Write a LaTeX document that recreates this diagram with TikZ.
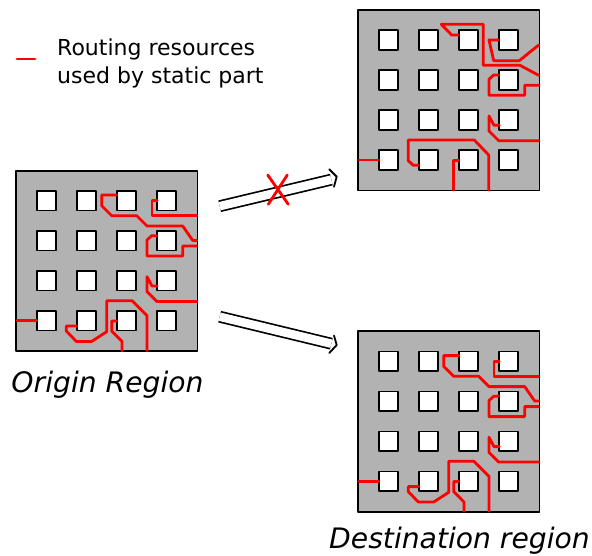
\documentclass[tikz,border=0pt]{standalone}
\usepackage{fontspec}
\setmainfont{DejaVu Sans}
\tikzset{
	region/.style={draw=black, line width=1.7pt, fill=black!30, anchor=north west, minimum width=181.5pt, minimum height=180.5pt, inner sep=0pt, outer sep=0pt},
	pad/.style={draw=black, line width=1.8pt, fill=white, minimum size=19.5pt, inner sep=0pt, outer sep=0pt},
	route/.style={draw=red, line width=2.8pt},
	transfer/.style={double, double distance=8.5pt, line width=1.7pt, line cap=butt},
	transfer head/.style={draw=black, line width=1.8pt},
	caption/.style={font=\fontsize{28.2}{34}\selectfont\itshape, inner sep=0pt}
}
\begin{document}
\begin{tikzpicture}[x=1pt, y=-1pt, line cap=round, line join=round]
	\useasboundingbox (0, 0) rectangle (592, 555);
	% Regions, pads and the routes they all share
	\foreach \r/\px/\py in {origin/16/170.7, upper/358/10, lower/358/331.3} {
		\begin{scope}[shift={(\px, \py)}]
			\node [region] (\r) at (0, 0) {};
			\foreach \a [count=\x] in {30.5, 70.5, 110.5, 150.5}
				\foreach \b [count=\y] in {30, 70, 110, 150}
					\node [pad] (\r-pad-\x-\y) at (\a, \b) {};
			\draw [route] (140.7, 65) -- (135.7, 65) -- (131, 69.3) -- (131, 85.3) -- (166.7, 85.3) -- (166.7, 75.3) -- (180.7, 75.3);
			\draw [route] (141.3, 115.3) -- (136, 115.3) -- (131, 106) -- (131, 121) -- (140.7, 130.7) -- (180.7, 130.7);
			\draw [route] (1, 150) -- (\r-pad-1-4);
		\end{scope}
	}
	% Routes of the origin and lower regions
	\foreach \r/\px/\py in {origin/16/170.7, lower/358/331.3} {
		\begin{scope}[shift={(\px, \py)}]
			\draw [route] (100.7, 24.3) -- (85.7, 24.3) -- (85.7, 35) -- (95.7, 45) -- (120.7, 45) -- (131, 55.3) -- (166.7, 55.3) -- (176.7, 69.7) -- (180.7, 69.7);
			\draw [route] (141.3, 30) -- (136, 30) -- (136, 45) -- (180.7, 45);
			\draw [route] (60.7, 155.3) -- (50.3, 155.3) -- (50.3, 160.3) -- (60.3, 170.7) -- (75.7, 170.7) -- (90.7, 161) -- (90.7, 130) -- (116, 130) -- (131, 145) -- (131, 180);
			\draw [route] (100.7, 150.3) -- (95.7, 150.3) -- (95.7, 160.3) -- (106, 170.7) -- (106, 180);
		\end{scope}
	}
	% Routes of the upper region
	\begin{scope}[shift={(358, 10)}]
		\draw [route] (100.3, 25) -- (93.7, 25) -- (83.3, 14.3) -- (125.3, 14.3) -- (125.3, 55.3) -- (162, 55.3) -- (180.7, 65.3);
		\draw [route] (140.3, 30) -- (131, 30) -- (135.7, 50.7) -- (161.3, 50.7) -- (180.7, 35);
		\draw [route] (60.3, 155.3) -- (55.3, 155.3) -- (50.3, 150.7) -- (50.3, 130) -- (116.3, 130) -- (130.7, 145) -- (130.7, 180);
		\draw [route] (100.3, 150.3) -- (95.3, 150.3) -- (95.3, 180);
	\end{scope}
	% Arrows
	\coordinate (upper-tail) at (219.7, 206.2);
	\coordinate (upper-neck) at (331.3, 179.6);
	\coordinate (upper-barb-1) at (329.3, 169.3);
	\coordinate (upper-tip) at (336.7, 176.7);
	\coordinate (upper-barb-2) at (334, 186.7);
	\coordinate (lower-tail) at (219.7, 316.7);
	\coordinate (lower-neck) at (331.3, 343.7);
	\coordinate (lower-barb-1) at (334, 335.6);
	\coordinate (lower-tip) at (336.7, 345);
	\coordinate (lower-barb-2) at (329.3, 353);
	\foreach \a in {upper, lower} {
		\draw [transfer] (\a-tail) -- (\a-neck);
		\draw [transfer head] (\a-barb-1) -- (\a-tip) -- (\a-barb-2);
	}
	% Cross on the upper arrow
	\coordinate (cross-a) at (267.7, 175);
	\coordinate (cross-b) at (288.3, 204.3);
	\coordinate (cross-c) at (287.3, 175);
	\coordinate (cross-d) at (268.3, 204.3);
	\draw [route] (cross-a) -- (cross-b);
	\draw [route] (cross-c) -- (cross-d);
	% Legend
	\coordinate (key-a) at (17, 59);
	\coordinate (key-b) at (35, 59);
	\draw [route] (key-a) -- (key-b);
	\node [anchor=west, align=left, inner sep=0pt, font=\fontsize{22}{28}\selectfont] (key) at (57, 63.5) {Routing resources\\used by static part};
	% Captions
	\node [caption] (origin-name) at (107.5, 385) {Origin Region};
	\node [caption] (lower-name) at (459.5, 541) {Destination region};
\end{tikzpicture}
\end{document}
